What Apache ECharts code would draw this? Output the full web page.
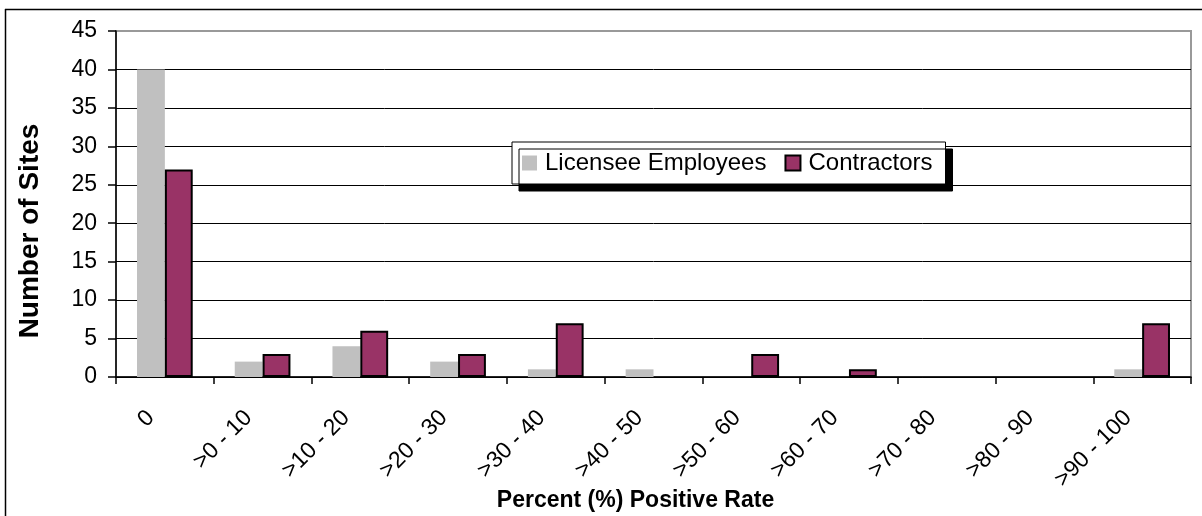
<!DOCTYPE html>
<html><head><meta charset="utf-8">
<script src="https://cdn.jsdelivr.net/npm/echarts@6/dist/echarts.min.js"></script>
<style>html,body{margin:0;padding:0;background:#fff}#c{width:1202px;height:516px}</style>
</head><body><div id="c"></div>
<script>
const categories = ['0','>0 - 10','>10 - 20','>20 - 30','>30 - 40','>40 - 50','>50 - 60','>60 - 70','>70 - 80','>80 - 90','>90 - 100'];
const licensee = [40,2,4,2,1,1,0,0,0,0,1];
const contractors = [27,3,6,3,7,0,3,1,0,0,7];
const yTicks = ['0','5','10','15','20','25','30','35','40','45'];
const FONT = '"Liberation Sans", Arial, sans-serif';
const hideZero = arr => arr.map(v => (v === 0 ? '-' : v));
const chart = echarts.init(document.getElementById('c'), null, {renderer:'canvas'});
chart.setOption({
  animation:false,
  graphic:[
    {type:'line',shape:{x1:5,y1:9.5,x2:1202,y2:9.5},style:{stroke:'#000',lineWidth:1.5},z:-1},
    {type:'line',shape:{x1:5.5,y1:9,x2:5.5,y2:516},style:{stroke:'#000',lineWidth:1.5},z:-1}
  ],
  grid:{left:116,right:11,top:31,bottom:139,show:true,borderColor:'#999',borderWidth:2,backgroundColor:'#fff',
        containLabel:false, outerBoundsMode:'none'},
  legend:{
    left:512, top:142,
    padding:[9,13,9,10],
    backgroundColor:'#fff', borderColor:'#000', borderWidth:1,
    shadowColor:'#000', shadowBlur:0, shadowOffsetX:7, shadowOffsetY:7,
    itemWidth:15, itemHeight:15, itemGap:18, icon:'rect',
    textStyle:{fontFamily:FONT, fontSize:24, color:'#000', padding:[3,0,0,3]},
    data:['Licensee Employees','Contractors']
  },
  xAxis:{
    type:'category', data:categories,
    name:'Percent (%) Positive Rate', nameLocation:'middle', nameGap:112, nameMoveOverlap:false,
    nameTextStyle:{fontFamily:FONT, fontSize:23, fontWeight:'bold', color:'#000', padding:[0,36,0,0]},
    axisLine:{lineStyle:{color:'#000',width:1.5}},
    axisTick:{show:true, length:7, alignWithLabel:false, interval:0, lineStyle:{color:'#000',width:1.5}},
    axisLabel:{rotate:45, interval:0, margin:23, padding:[0,20,0,0], fontFamily:FONT, fontSize:23, color:'#000'}
  },
  yAxis:{
    type:'value', min:0, max:45, interval:5,
    name:'Number of Sites', nameLocation:'middle', nameGap:72, nameMoveOverlap:false,
    nameTextStyle:{fontFamily:FONT, fontSize:28, fontWeight:'bold', color:'#000', padding:[0,54,0,0]},
    axisLine:{show:true, lineStyle:{color:'#000',width:1.5}},
    axisTick:{show:true, length:8, inside:false, lineStyle:{color:'#000',width:1.5}},
    axisLabel:{fontFamily:FONT, fontSize:23, color:'#000', margin:19, formatter:(v, i) => yTicks[i] ?? String(v)},
    splitLine:{show:true, lineStyle:{color:['#000','#000','#000','#000','#000','#000','#000','#000','#000','#999'], width:1}}
  },
  series:[
    {name:'Licensee Employees', type:'bar', data:hideZero(licensee), barGap:'0%', barCategoryGap:'43%',
     itemStyle:{color:'#C0C0C0', borderWidth:0}},
    {name:'Contractors', type:'bar', data:hideZero(contractors), barGap:'0%', barCategoryGap:'43%',
     itemStyle:{color:'#993366', borderColor:'#000', borderWidth:2}}
  ]
});
</script></body></html>
